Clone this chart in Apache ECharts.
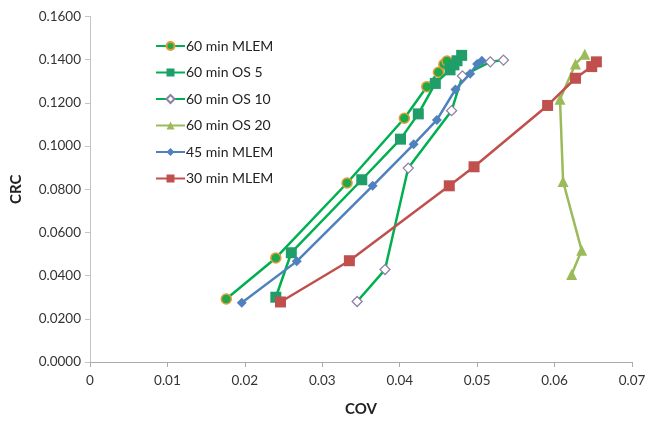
<!DOCTYPE html>
<html>
<head>
<meta charset="utf-8">
<script src="https://cdn.jsdelivr.net/npm/echarts@6/dist/echarts.min.js"></script>
<style>html,body{margin:0;padding:0;background:#fff}#c{width:649px;height:422px}</style>
</head>
<body>
<div id="c"></div>
<script>
var seriesNames = ['60 min MLEM', '60 min OS 5', '60 min OS 10', '60 min OS 20', '45 min MLEM', '30 min MLEM'];
var xTicks = [0, 0.01, 0.02, 0.03, 0.04, 0.05, 0.06, 0.07];
var yTicks = [0, 0.02, 0.04, 0.06, 0.08, 0.10, 0.12, 0.14, 0.16];

var mlem60X = [0.0176, 0.0240, 0.0332, 0.0406, 0.0435, 0.0450, 0.0457, 0.0461];
var mlem60Y = [0.0292, 0.0482, 0.0829, 0.1129, 0.1275, 0.1342, 0.1379, 0.1394];
var os5X = [0.0240, 0.0260, 0.0351, 0.0401, 0.0424, 0.0446, 0.0465, 0.0470, 0.0474, 0.0480];
var os5Y = [0.0300, 0.0506, 0.0844, 0.1032, 0.1149, 0.1290, 0.1353, 0.1376, 0.1395, 0.1420];
var os10X = [0.0345, 0.0381, 0.0411, 0.0467, 0.0481, 0.0517, 0.0534];
var os10Y = [0.0280, 0.0428, 0.0898, 0.1164, 0.1325, 0.1390, 0.1398];
var os20X = [0.0622, 0.0635, 0.0611, 0.0607, 0.0627, 0.0639];
var os20Y = [0.0405, 0.0517, 0.0836, 0.1217, 0.1380, 0.1425];
var mlem45X = [0.0196, 0.0267, 0.0365, 0.0418, 0.0448, 0.0472, 0.0491, 0.0500, 0.0506];
var mlem45Y = [0.0274, 0.0466, 0.0816, 0.1008, 0.1121, 0.1262, 0.1335, 0.1380, 0.1395];
var mlem30X = [0.0246, 0.0335, 0.0464, 0.0496, 0.0591, 0.0627, 0.0648, 0.0654];
var mlem30Y = [0.0278, 0.0469, 0.0816, 0.0904, 0.1188, 0.1314, 0.1368, 0.1390];

function zip(xs, ys) { return xs.map(function (x, i) { return [x, ys[i]]; }); }

var styles = [
  {symbol: 'circle', size: 10, line: '#00B050', fill: '#1DAA4A', border: '#E39B3A', bw: 1.5},
  {symbol: 'rect', size: 11, line: '#00B050', fill: '#1F9E6A', border: '#1F9E6A', bw: 0},
  {symbol: 'diamond', size: 10, line: '#00B050', fill: '#FFFFFF', border: '#8E7FA6', bw: 1.3},
  {symbol: 'triangle', size: 11, line: '#9BBB59', fill: '#9BBB59', border: '#9BBB59', bw: 0},
  {symbol: 'diamond', size: 10, line: '#4F81BD', fill: '#4F81BD', border: '#4F81BD', bw: 0},
  {symbol: 'rect', size: 11, line: '#C0504D', fill: '#C0504D', border: '#C0504D', bw: 0}
];
var datasets = [zip(mlem60X, mlem60Y), zip(os5X, os5Y), zip(os10X, os10Y), zip(os20X, os20Y), zip(mlem45X, mlem45Y), zip(mlem30X, mlem30Y)];

var font = 'Lato, "Open Sans", sans-serif';
var series = seriesNames.map(function (n, i) {
  var s = styles[i];
  return {
    name: n, type: 'line', data: datasets[i],
    symbol: s.symbol, symbolSize: s.size, showSymbol: true,
    lineStyle: {color: s.line, width: 2.5},
    itemStyle: {color: s.fill, borderColor: s.border, borderWidth: s.bw},
    emphasis: {disabled: true},
    z: 2 + i
  };
});

var chart = echarts.init(document.getElementById('c'));
chart.setOption({
  animation: false,
  backgroundColor: '#ffffff',
  grid: {left: 90, right: 17, top: 16.5, bottom: 59.5},
  legend: {
    orient: 'vertical', left: 150, top: 34, itemWidth: 29, itemHeight: 10, itemGap: 12.5,
    data: seriesNames,
    textStyle: {fontFamily: font, fontSize: 14, color: '#222222', padding: [0, 0, 0, -4]}
  },
  xAxis: {
    type: 'value', min: xTicks[0], max: xTicks[xTicks.length - 1], interval: 0.01,
    name: 'COV', nameLocation: 'middle', nameGap: 40,
    nameTextStyle: {fontFamily: font, fontSize: 15, fontWeight: 'bold', color: '#222'},
    axisLine: {show: true, lineStyle: {color: '#ABABAB', width: 1}},
    axisTick: {show: true, length: 5, lineStyle: {color: '#ABABAB'}},
    axisLabel: {fontFamily: font, fontSize: 13.5, color: '#333', margin: 12,
      formatter: function (v) { return String(+v.toFixed(2)); }},
    splitLine: {show: false}
  },
  yAxis: {
    type: 'value', min: yTicks[0], max: yTicks[yTicks.length - 1], interval: 0.02,
    name: 'CRC', nameLocation: 'middle', nameGap: 66, nameRotate: 90,
    nameTextStyle: {fontFamily: font, fontSize: 15, fontWeight: 'bold', color: '#222'},
    axisLine: {show: true, lineStyle: {color: '#C4C4C4', width: 1}},
    axisTick: {show: true, length: 5, lineStyle: {color: '#C4C4C4'}},
    axisLabel: {fontFamily: font, fontSize: 13.5, color: '#333', margin: 9,
      formatter: function (v) { return v.toFixed(4); }},
    splitLine: {show: false}
  },
  series: series
});
</script>
</body>
</html>
